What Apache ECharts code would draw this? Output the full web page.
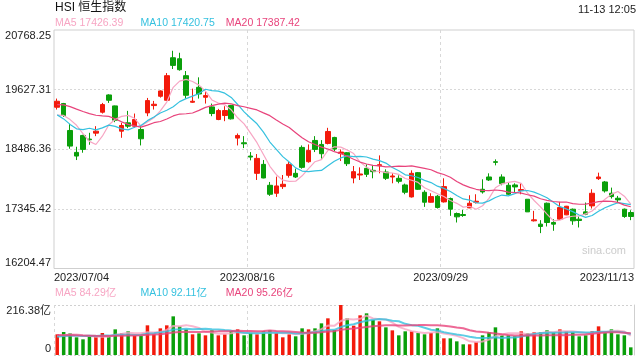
<!DOCTYPE html>
<html><head><meta charset="utf-8">
<script src="https://cdn.jsdelivr.net/npm/echarts@6/dist/echarts.min.js"></script>
<style>html,body{margin:0;padding:0;background:#fff}#c{width:640px;height:360px}</style>
</head><body><div id="c"></div>
<script>
const dates = ['07/04','07/05','07/06','07/07','07/10','07/11','07/12','07/13','07/14','07/18','07/19','07/20','07/21','07/24','07/25','07/26','07/27','07/28','07/31',
'08/01','08/02','08/03','08/04','08/07','08/08','08/09','08/10','08/11','08/14','08/15','08/16','08/17','08/18','08/21','08/22','08/23','08/24','08/25','08/28','08/29','08/30','08/31',
'09/04','09/05','09/06','09/07','09/11','09/12','09/13','09/14','09/15','09/18','09/19','09/20','09/21','09/22','09/25','09/26','09/27','09/28','09/29',
'10/03','10/04','10/05','10/06','10/09','10/10','10/11','10/12','10/13','10/16','10/17','10/18','10/19','10/20','10/24','10/25','10/26','10/27','10/30','10/31',
'11/01','11/02','11/03','11/06','11/07','11/08','11/09','11/10','11/13'];
const opens = [19290.5,19360.4,18845.5,18426.0,18750.2,18680.3,18794.7,19195.1,19525.6,19315.9,18832.8,18991.7,18928.2,18864.6,19182.4,19322.2,19500.2,19423.9,20237.5,20218.4,
19894.3,19385.8,19671.8,19481.1,19296.8,19055.3,19131.6,19322.2,18699.3,18610.4,18356.1,18025.6,18197.2,17796.8,17644.2,17771.4,17987.5,18025.6,18521.4,18248.1,
18654.9,18578.6,18597.6,18712.1,18407.0,18419.7,17936.6,17993.8,18120.9,18082.8,18171.8,18051.0,17955.7,17930.3,17803.1,17574.3,18038.3,17663.3,17472.6,17587.0,
17479.0,17542.6,17256.5,17237.5,17364.6,17472.6,17720.5,17955.7,18248.1,17955.7,17796.8,17803.1,17695.1,17529.8,17116.7,17053.1,17453.6,17084.9,17148.5,17231.1,
17339.2,17148.5,17288.3,17402.7,17923.9,17860.4,17644.2,17548.9,17339.2,17275.6];
const closes = [19404.9,19131.6,18546.8,18356.1,18483.2,18667.6,18832.8,19341.3,19423.9,19042.6,18940.9,18928.2,19055.3,18686.6,19417.6,19347.7,19601.9,19894.3,20091.3,20008.7,
19519.3,19404.9,19544.7,19512.9,19169.7,19226.9,19226.9,19068.0,18750.2,18591.3,18337.1,18311.6,17936.6,17625.2,17784.1,17815.9,18197.2,17955.7,18140.0,18464.2,
18483.2,18400.6,18826.5,18489.6,18432.4,18209.9,18057.4,18012.9,18006.5,18057.4,18190.9,17930.3,17974.8,17873.1,17663.3,18025.6,17720.5,17472.6,17580.7,17370.9,
17771.4,17339.2,17193.0,17218.4,17453.6,17491.7,17669.7,17898.5,18235.4,17828.6,17625.2,17765.0,17714.2,17288.3,17135.8,17008.6,17084.9,17053.1,17370.9,17396.4,
17116.7,17123.1,17243.8,17644.2,17955.7,17688.7,17580.7,17517.1,17199.3,17199.3];
const lows = [19246.0,19106.1,18496.0,18279.8,18419.7,18572.2,18737.5,19169.7,19373.1,19004.4,18705.7,18890.0,18896.4,18559.5,19118.8,19246.0,19474.8,19411.2,20021.4,19989.6,
19455.7,19373.1,19455.7,19360.4,19118.8,19042.6,19023.5,19055.3,18559.5,18508.7,18273.5,17898.5,17930.3,17593.4,17574.3,17726.9,17943.0,17936.6,18114.6,18229.0,
18432.4,18305.3,18578.6,18451.5,18260.8,18165.4,17834.9,17898.5,17955.7,17930.3,18025.6,17898.5,17834.9,17834.9,17625.2,17561.6,17707.8,17383.7,17466.3,17351.9,
17466.3,17212.0,17084.9,17193.0,17358.2,17447.2,17637.9,17879.4,18178.2,17796.8,17612.5,17669.7,17625.2,17288.3,17104.0,16881.5,17008.6,16926.0,17135.8,17224.8,
17040.4,16989.6,17224.8,17351.9,17898.5,17657.0,17542.6,17453.6,17173.9,17129.4];
const highs = [19455.7,19373.1,18972.7,18534.1,18762.9,18801.0,18928.2,19373.1,19538.3,19322.2,18991.7,19220.5,19169.7,18928.2,19468.4,19411.2,19614.6,19945.1,20371.0,20332.8,
19983.3,19646.4,19862.5,19582.8,19360.4,19258.7,19309.5,19334.9,18788.3,18737.5,18432.4,18394.3,18279.8,17860.4,17962.0,17993.8,18260.8,18114.6,18559.5,18578.6,
18737.5,18661.2,18896.4,18724.8,18483.2,18432.4,18165.4,18140.0,18197.2,18178.2,18368.8,18101.9,18025.6,17987.5,17828.6,18082.8,18051.0,17701.5,17644.2,17612.5,
17930.3,17561.6,17275.6,17326.5,17606.1,17625.2,17911.2,18025.6,18292.6,18006.5,17847.6,17834.9,17834.9,17529.8,17307.4,17129.4,17466.3,17148.5,17479.0,17402.7,
17351.9,17199.3,17466.3,17720.5,18038.3,17879.4,17752.3,17593.4,17351.9,17320.1];
const volumes = [89.4,99.5,93.8,76.5,67.8,77.9,77.9,95.2,77.9,111,93.8,102.4,83.7,82.2,128.4,89.4,115.4,128.4,167.3,124,
111,89.4,93.8,85.1,106.7,85.1,89.4,103.9,111,85.1,96.6,89.4,103.9,106.7,95.2,76.5,89.4,80.8,115.4,111,
115.4,137,158.7,108.2,216.3,158.7,127,171.7,180.3,151.5,145.7,119.7,106.7,85.1,102.4,102.4,95.2,89.4,95.2,115.4,
72.1,72.1,59.1,46.2,46.2,56.3,85.1,98.1,119.7,85.1,85.1,80.8,102.4,93.8,98.1,98.1,106.7,98.1,111,102.4,
98.1,80.8,85.1,102.4,124,98.1,111,89.4,85.1,33.2];
// estimated closes / volumes of the 19 sessions before the first candle (feed the moving averages)
const preCloses = [19250,19200,19300,19420,19450,19480,19560,19620,19950,20150,19900,19600,19200,18650,18400,19150,18950,18900,19285];
const preVolumes = [110,85,95,100,80,90,105,95,88,92,72,80,70,78,75,85,78,80,82.6];
const yTickLabels = ['16204.47','17345.42','18486.36','19627.31','20768.25'];
const volTickLabels = ['0','216.38亿'];
const xTickLabels = ['2023/07/04','2023/08/16','2023/09/29','2023/11/13'];
const maLegend = ['MA5 17426.39','MA10 17420.75','MA20 17387.42'];
const volLegend = ['MA5 84.29亿','MA10 92.11亿','MA20 95.26亿'];
const titleText = 'HSI 恒生指数';
const timeText = '11-13 12:05';

const UP = '#f31a0b', DOWN = '#0a9f0a';
const C5 = '#f7a5c3', C10 = '#35c1df', C20 = '#e8447c';
const FONT = '"Liberation Sans", Arial, "Noto Sans CJK SC", sans-serif';
const yMin = 16204.47, yMax = 20768.25, yInt = (yMax - yMin) / 4;
const vMax = 216.38;

function ma(arr, pre, n) {
  const all = pre.concat(arr);
  return arr.map((_, i) => {
    let s = 0;
    for (let k = 0; k < n; k++) s += all[pre.length + i - k];
    return +(s / n).toFixed(2);
  });
}

const chart = echarts.init(document.getElementById('c'), null, {renderer: 'canvas'});
const lbl = {fontFamily: FONT, fontSize: 11, color: '#222'};

const option = {
  animation: false,
  textStyle: {fontFamily: FONT},
  grid: [
    {left: 54, top: 30, width: 580, height: 238.5, show: true, borderColor: '#cfcfcf', borderWidth: 1, containLabel: false, outerBoundsMode: 'none'},
    {left: 54, top: 305, width: 580, height: 50, containLabel: false, outerBoundsMode: 'none'}
  ],
  xAxis: [
    {type: 'category', gridIndex: 0, data: dates, position: 'bottom', boundaryGap: true,
     axisLine: {show: false}, axisTick: {show: false}, axisLabel: {show: false}, splitLine: {show: false}},
    {type: 'value', gridIndex: 0, min: 0, max: 3, interval: 1, position: 'bottom',
     axisLine: {show: false}, axisTick: {show: false},
     axisLabel: Object.assign({margin: 4, formatter: v => (v === 1 || v === 2) ? xTickLabels[v] : ''}, lbl),
     splitLine: {show: true, lineStyle: {type: [3, 3], width: 1, color: ['rgba(0,0,0,0)', '#d8d8d8', '#d8d8d8', 'rgba(0,0,0,0)']}}},
    {type: 'value', gridIndex: 0, min: 0, max: 3, interval: 1, position: 'bottom',
     axisLine: {show: false}, axisTick: {show: false}, splitLine: {show: false},
     axisLabel: Object.assign({margin: 4, align: 'left', formatter: v => v === 0 ? xTickLabels[0] : ''}, lbl)},
    {type: 'value', gridIndex: 0, min: 0, max: 3, interval: 1, position: 'bottom',
     axisLine: {show: false}, axisTick: {show: false}, splitLine: {show: false},
     axisLabel: Object.assign({margin: 4, align: 'right', formatter: v => v === 3 ? xTickLabels[3] : ''}, lbl)},
    {type: 'category', gridIndex: 1, data: dates, position: 'bottom', boundaryGap: true,
     axisLine: {show: false}, axisTick: {show: false}, axisLabel: {show: false}, splitLine: {show: false}},
    {type: 'value', gridIndex: 1, min: 0, max: 3, interval: 1, position: 'bottom',
     axisLine: {show: false}, axisTick: {show: false}, axisLabel: {show: false},
     splitLine: {show: true, lineStyle: {type: [3, 3], width: 1, color: '#d8d8d8'}}}
  ],
  yAxis: [
    {type: 'value', gridIndex: 0, min: yMin, max: yMax, interval: yInt, position: 'left',
     axisLine: {show: false}, axisTick: {show: false},
     axisLabel: Object.assign({margin: 3, lineHeight: 12, formatter: v => {
       const i = Math.round((v - yMin) / yInt); const t = yTickLabels[i];
       if (i === 4) return '\n' + t; if (i === 0) return t + '\n'; return t; }}, lbl),
     splitLine: {show: true, lineStyle: {type: [2, 2], width: 1, color: ['rgba(0,0,0,0)', '#d8d8d8', '#d8d8d8', '#d8d8d8', 'rgba(0,0,0,0)']}}},
    {type: 'value', gridIndex: 1, min: 0, max: vMax, interval: vMax, position: 'left',
     axisLine: {show: false}, axisTick: {show: false},
     axisLabel: Object.assign({margin: 3, lineHeight: 12, formatter: v => v > 0 ? '\n' + volTickLabels[1] : volTickLabels[0] + '\n'}, lbl),
     splitLine: {show: true, lineStyle: {type: [2, 2], width: 1, color: '#d0d0d0'}}},
    {type: 'value', gridIndex: 1, min: 0, max: vMax, interval: vMax, position: 'right',
     axisLine: {show: true, lineStyle: {color: '#cfcfcf', width: 1}}, axisTick: {show: false},
     axisLabel: {show: false}, splitLine: {show: false}}
  ],
  series: [
    {type: 'candlestick', xAxisIndex: 0, yAxisIndex: 0, barWidth: 5,
     data: opens.map((o, i) => [o, closes[i], lows[i], highs[i]]),
     itemStyle: {color: UP, color0: DOWN, borderColor: UP, borderColor0: DOWN, borderWidth: 1}},
    {type: 'line', xAxisIndex: 0, yAxisIndex: 0, data: ma(closes, preCloses, 5), symbol: 'none', lineStyle: {color: C5, width: 1.2}},
    {type: 'line', xAxisIndex: 0, yAxisIndex: 0, data: ma(closes, preCloses, 10), symbol: 'none', lineStyle: {color: C10, width: 1.2}},
    {type: 'line', xAxisIndex: 0, yAxisIndex: 0, data: ma(closes, preCloses, 20), symbol: 'none', lineStyle: {color: C20, width: 1.2}},
    {type: 'bar', xAxisIndex: 4, yAxisIndex: 1, barWidth: 3.5,
     data: volumes.map((v, i) => ({value: v, itemStyle: {color: closes[i] >= opens[i] ? UP : DOWN}}))},
    {type: 'line', xAxisIndex: 4, yAxisIndex: 1, data: ma(volumes, preVolumes, 5), symbol: 'none', lineStyle: {color: C5, width: 2, opacity: 0.8}},
    {type: 'line', xAxisIndex: 4, yAxisIndex: 1, data: ma(volumes, preVolumes, 10), symbol: 'none', lineStyle: {color: C10, width: 2, opacity: 0.8}},
    {type: 'line', xAxisIndex: 4, yAxisIndex: 1, data: ma(volumes, preVolumes, 20), symbol: 'none', lineStyle: {color: C20, width: 2, opacity: 0.8}}
  ],
  graphic: [
    {type: 'text', left: 55, top: 2, style: {text: titleText, fontSize: 12, fontFamily: FONT, fill: '#111'}},
    {type: 'text', right: 4, top: 4, style: {text: timeText, fontSize: 11, fontFamily: FONT, fill: '#222'}},
    {type: 'text', x: 55, y: 23, style: {text: maLegend[0], fontSize: 10.5, fontFamily: FONT, fill: C5, verticalAlign: 'middle'}},
    {type: 'text', x: 140.6, y: 23, style: {text: maLegend[1], fontSize: 10.5, fontFamily: FONT, fill: C10, verticalAlign: 'middle'}},
    {type: 'text', x: 225.8, y: 23, style: {text: maLegend[2], fontSize: 10.5, fontFamily: FONT, fill: C20, verticalAlign: 'middle'}},
    {type: 'text', x: 55, y: 293, style: {text: volLegend[0], fontSize: 10.5, fontFamily: FONT, fill: C5, verticalAlign: 'middle'}},
    {type: 'text', x: 140.6, y: 293, style: {text: volLegend[1], fontSize: 10.5, fontFamily: FONT, fill: C10, verticalAlign: 'middle'}},
    {type: 'text', x: 225.8, y: 293, style: {text: volLegend[2], fontSize: 10.5, fontFamily: FONT, fill: C20, verticalAlign: 'middle'}},
    {type: 'text', x: 582, y: 251, style: {text: 'sina.com', fontSize: 11, fontFamily: FONT, fill: '#cccccc', verticalAlign: 'middle'}}
  ]
};
chart.setOption(option);
</script>
</body></html>
